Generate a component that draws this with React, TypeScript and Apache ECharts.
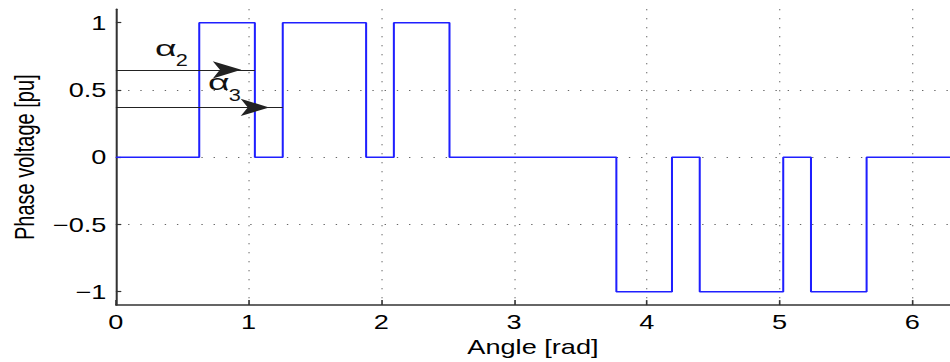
import React, { useEffect, useRef } from 'react';
import * as echarts from 'echarts';

// ---- data ----
const xTicks = [0, 1, 2, 3, 4, 5, 6];
const yTicks = [-1, -0.5, 0, 0.5, 1];
// switching angles (rad) and the level that starts at each angle
const switchAngles = [0, 0.628, 1.047, 1.257, 1.885, 2.094, 2.513, 3.77, 4.189, 4.398, 5.027, 5.236, 5.655, 6.283];
const phaseLevels = [0, 1, 0, 1, 0, 1, 0, -1, 0, -1, 0, -1, 0, 0];
// annotation arrows (alpha_2, alpha_3)
const arrowLevels = [0.65, 0.37];
const arrowTargets = [1.047, 1.257];
const arrowSubscripts = ['2', '3'];

const INNER_W = 700;
const STRETCH = 950 / INNER_W;
const FONT = '"Liberation Sans", Arial, Helvetica, sans-serif';

const fmt = (v: number) => String(v).replace('-', '\u2212');

export default function App() {
  const ref = useRef<HTMLDivElement>(null);
  useEffect(() => {
    if (!ref.current) return;
    const chart = echarts.init(ref.current, null, { renderer: 'svg' });
    const data = switchAngles.map((x, i) => [x, phaseLevels[i]]);
    const gridDots = { type: [1, 8] as any, color: '#666', width: 1 };
    chart.setOption({
      animation: false,
      backgroundColor: '#ffffff',
      grid: { left: 84.4, top: 9.3, width: 618.5, height: 297.4, containLabel: false },
      xAxis: {
        type: 'value',
        min: 0,
        max: 2 * Math.PI,
        interval: 1,
        name: 'Angle [rad]',
        nameLocation: 'middle',
        nameGap: 30,
        nameTextStyle: { fontFamily: FONT, fontSize: 20, color: '#000' },
        axisLine: { show: true, onZero: false, lineStyle: { color: '#333', width: 1.5 } },
        axisTick: { show: true, inside: true, length: 5, lineStyle: { color: '#333', width: 1.2 } },
        axisLabel: {
          margin: 7,
          fontFamily: FONT,
          fontSize: 20,
          color: '#000',
          showMaxLabel: false,
          formatter: (v: number) => (xTicks.includes(v) ? fmt(v) : ''),
        },
        splitLine: { show: true, showMinLine: false, showMaxLine: false, lineStyle: gridDots },
      },
      yAxis: {
        type: 'value',
        min: -1.1,
        max: 1.1,
        name: 'Phase voltage [pu]',
        nameLocation: 'middle',
        nameGap: 56,
        nameRotate: 90,
        nameTextStyle: { fontFamily: FONT, fontSize: 20, color: '#000' },
        axisLine: { show: true, lineStyle: { color: '#333', width: 1.5 } },
        axisTick: { show: true, inside: true, length: 4, customValues: yTicks, lineStyle: { color: '#333', width: 1.2 } },
        axisLabel: {
          margin: 7,
          fontFamily: FONT,
          fontSize: 20,
          color: '#000',
          showMinLabel: false,
          showMaxLabel: false,
          formatter: (v: number) => (yTicks.some((t) => Math.abs(t - v) < 1e-9) ? fmt(v) : ''),
        },
        splitLine: { show: true, showMinLine: false, showMaxLine: false, lineStyle: gridDots },
      },
      series: [
        {
          type: 'line',
          step: 'end',
          data,
          showSymbol: false,
          symbol: 'none',
          lineStyle: { color: '#1f1fff', width: 1.5 },
          emphasis: { disabled: true },
          markLine: {
            silent: true,
            symbol: ['none', 'arrow'],
            symbolSize: [13, 21],
            symbolOffset: [0, [0, 10]],
            label: { show: false },
            emphasis: { disabled: true },
            lineStyle: { color: '#222', width: 1, type: 'solid' },
            data: arrowLevels.map((y, i) => [{ coord: [0, y] }, { coord: [arrowTargets[i], y] }]),
          },
        },
      ],
      graphic: [
        { type: 'text', x: 114.2, y: 48, scaleX: 1.25, style: { text: '\u03b1', font: `22px ${FONT}`, fill: '#111', verticalAlign: 'middle', align: 'left' } },
        { type: 'text', x: 129.5, y: 60.5, style: { text: arrowSubscripts[0], font: `16px ${FONT}`, fill: '#111', verticalAlign: 'middle', align: 'left' } },
        { type: 'text', x: 153.3, y: 82, scaleX: 1.25, style: { text: '\u03b1', font: `22px ${FONT}`, fill: '#111', verticalAlign: 'middle', align: 'left' } },
        { type: 'text', x: 168.6, y: 96, style: { text: arrowSubscripts[1], font: `16px ${FONT}`, fill: '#111', verticalAlign: 'middle', align: 'left' } },
      ],
    });
    return () => chart.dispose();
  }, []);
  return (
    <div style={{ position: 'absolute', left: 0, top: 0, width: 950, height: 362, overflow: 'hidden', background: '#fff' }}>
      <div
        ref={ref}
        style={{ width: INNER_W, height: 362, transform: `scaleX(${STRETCH})`, transformOrigin: '0 0' }}
      />
    </div>
  );
}
